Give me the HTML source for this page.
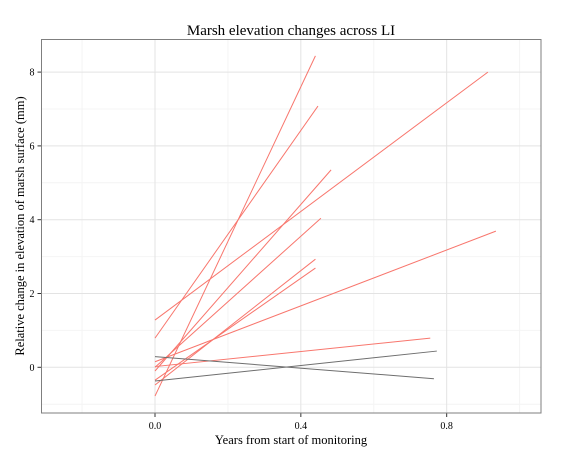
<!DOCTYPE html>
<html><head><meta charset="utf-8"><style>
body{margin:0;background:#fff}
svg{display:block;font-family:"Liberation Serif",serif}
</style></head><body>
<svg id="c" width="561" height="458">
<text x="291" y="35" text-anchor="middle" font-size="15">Marsh elevation changes across LI</text>
<text x="291" y="444" text-anchor="middle" font-size="12.5">Years from start of monitoring</text>
<text transform="translate(24,226) rotate(-90)" text-anchor="middle" font-size="12.5">Relative change in elevation of marsh surface (mm)</text>
<g id="g"></g>
</svg>
<script>
const xTicks=[0,0.4,0.8];
const xMinor=[-0.2,0.2,0.6,1.0];
const yTicks=[0,2,4,6,8];
const yMinor=[-1,1,3,5,7];
const groups=["red","red","red","red","red","red","red","red","red","gray","gray"];
const startX=[0,0,0,0,0,0,0,0,0,0,0];
const startY=[-0.78,0.79,-0.1,1.28,0.0,-0.48,-0.35,0.15,0.02,0.29,-0.37];
const endX=[0.44,0.447,0.483,0.913,0.455,0.44,0.44,0.935,0.755,0.765,0.773];
const endY=[8.44,7.08,5.35,8.0,4.04,2.93,2.69,3.69,0.79,-0.31,0.44];
const L=41.5,R=541,T=39.5,B=413;
const sx=v=>155+v*364.6, sy=v=>367.3-v*36.9;
const g=document.getElementById('g'),NS='http://www.w3.org/2000/svg';
function mk(t,a){const e=document.createElementNS(NS,t);for(const k in a)e.setAttribute(k,a[k]);g.appendChild(e);return e;}
xMinor.forEach(v=>{const e=mk('line',{x1:sx(v),x2:sx(v),y1:T,y2:B,stroke:'#f4f4f4','stroke-width':1});

});
yMinor.forEach(v=>{const e=mk('line',{x1:L,x2:R,y1:sy(v),y2:sy(v),stroke:'#f4f4f4','stroke-width':1});

});
xTicks.forEach(v=>{const e=mk('line',{x1:sx(v),x2:sx(v),y1:T,y2:B,stroke:'#e3e3e3','stroke-width':1});


const t=mk('line',{x1:sx(v),x2:sx(v),y1:B,y2:B+4,stroke:'#333'});


const l=mk('text',{x:sx(v),y:B+16,'text-anchor':'middle','font-size':10});l.textContent=v.toFixed(1);

});
yTicks.forEach(v=>{const e=mk('line',{x1:L,x2:R,y1:sy(v),y2:sy(v),stroke:'#e3e3e3','stroke-width':1});


const t=mk('line',{x1:L-4,x2:L,y1:sy(v),y2:sy(v),stroke:'#333'});


const l=mk('text',{x:L-7,y:sy(v)+3.5,'text-anchor':'end','font-size':10});l.textContent=v;

});
groups.forEach((gr,i)=>{const e=mk('line',{x1:sx(startX[i]),y1:sy(startY[i]),x2:sx(endX[i]),y2:sy(endY[i]),stroke:gr==='red'?'#f8766d':'#6e6e6e','stroke-width':1});

});
const b=mk('rect',{x:L,y:T,width:R-L,height:B-T,fill:'none',stroke:'#7f7f7f','stroke-width':1});


</script>
</body></html>
